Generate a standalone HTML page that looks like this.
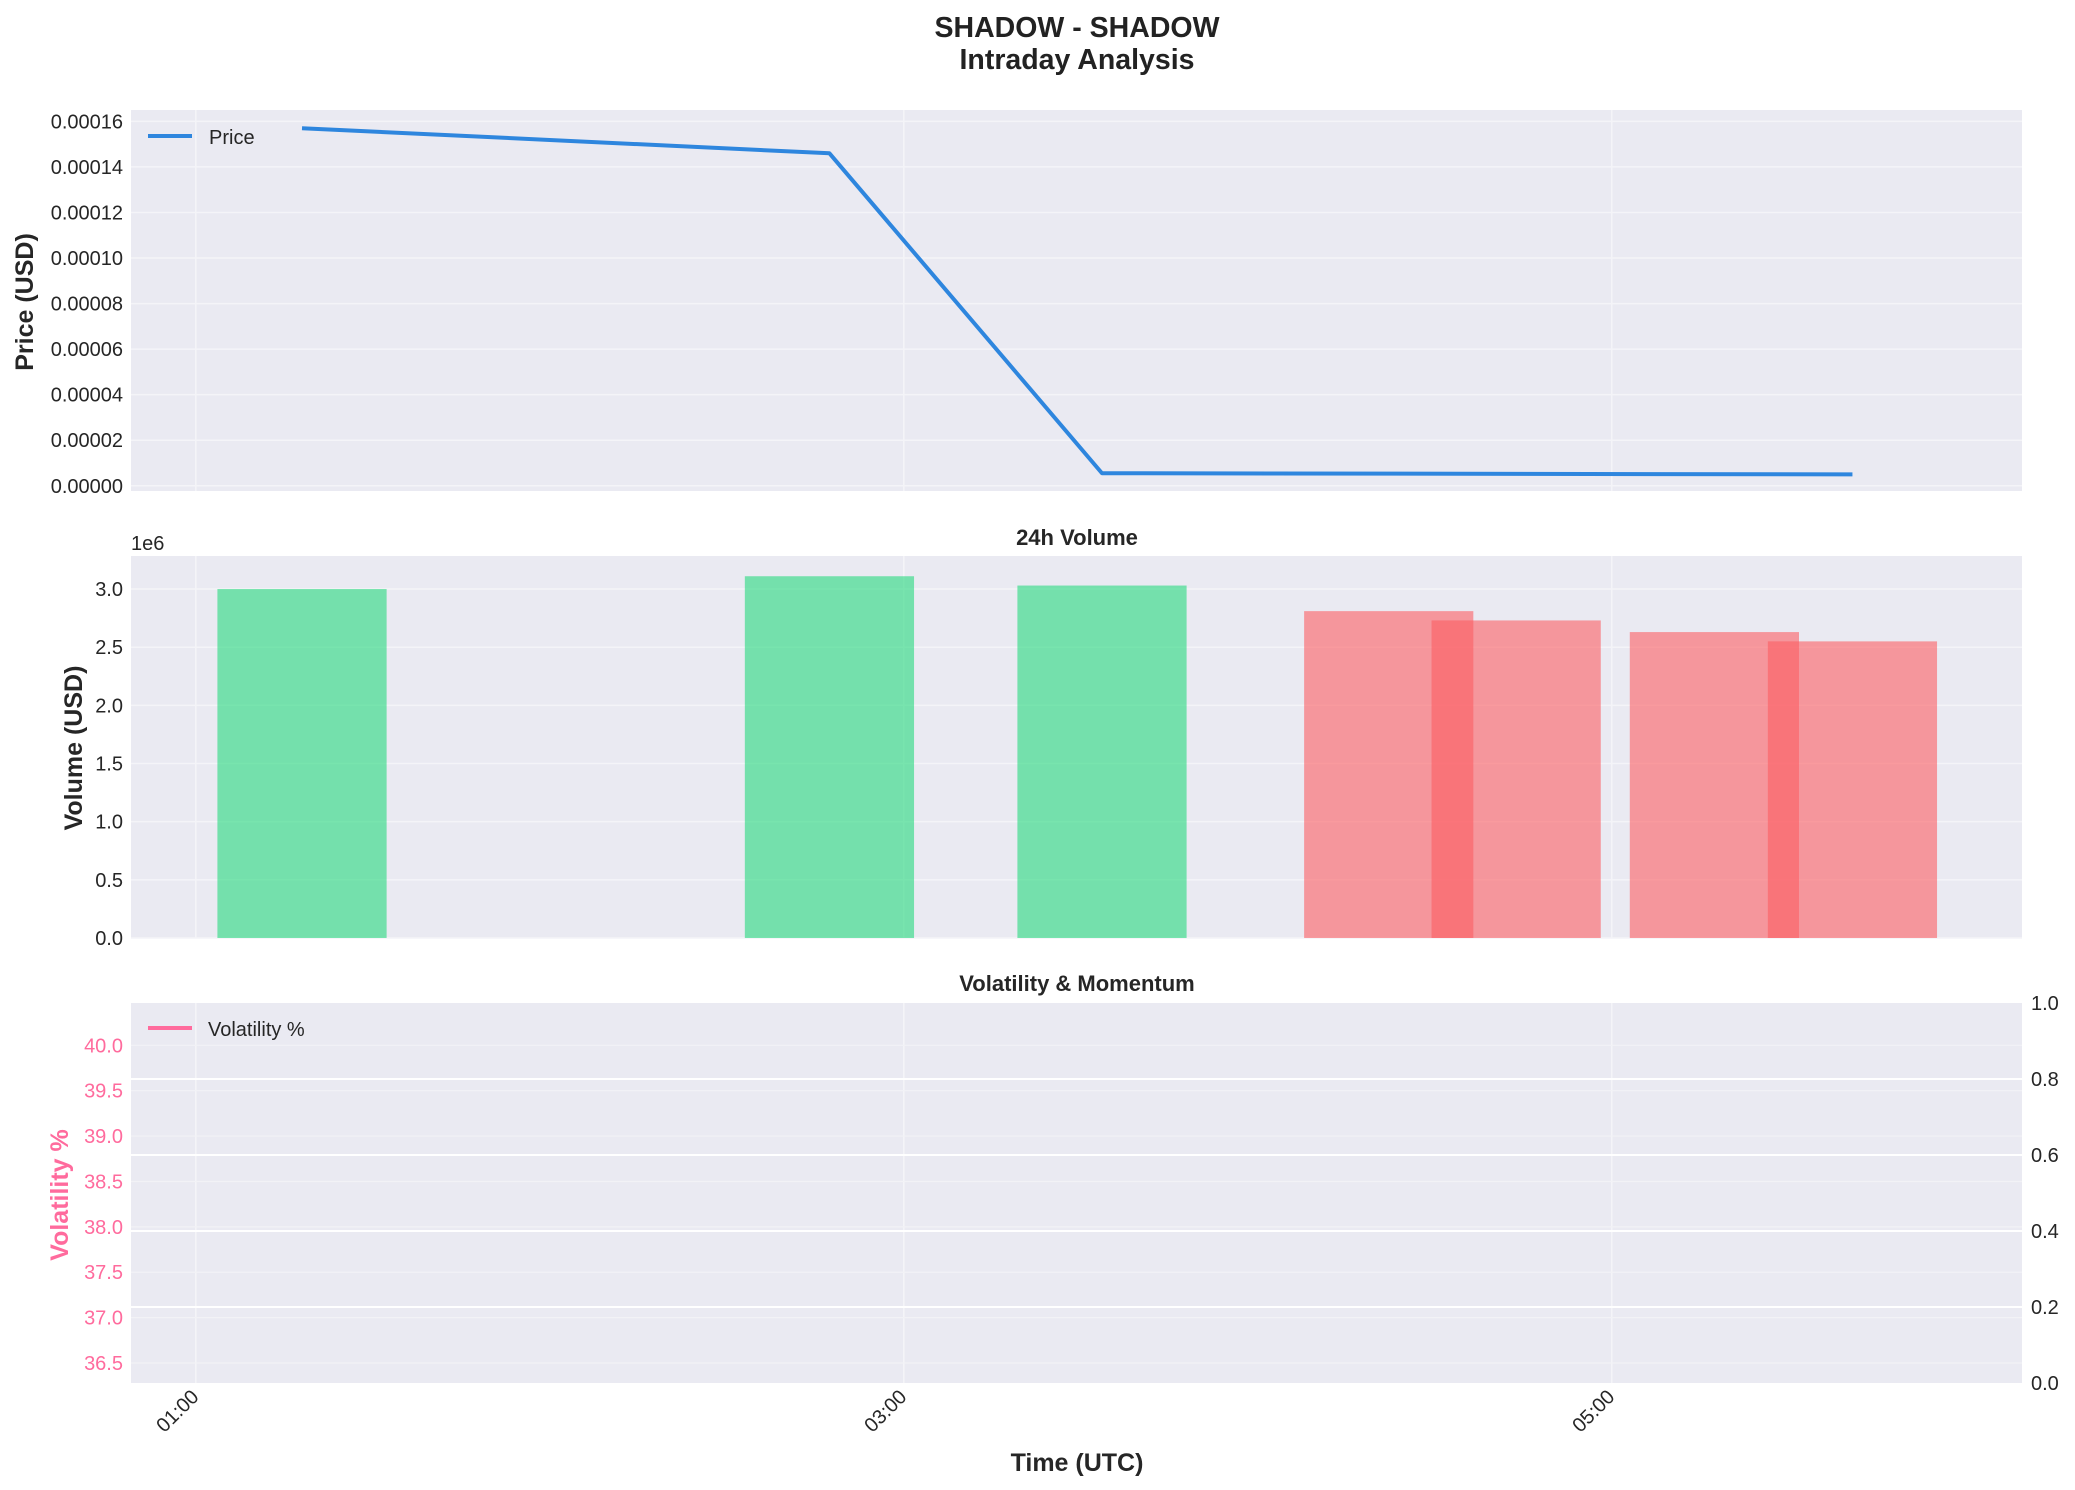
<!DOCTYPE html>
<html><head><meta charset="utf-8"><style>
html,body{margin:0;padding:0;background:#fff;}
svg{display:block;font-family:"Liberation Sans",sans-serif;}
</style></head><body>
<svg id="chart" width="2075" height="1490" viewBox="0 0 2075 1490" xmlns="http://www.w3.org/2000/svg">
<text x="1077" y="37" text-anchor="middle" font-size="28.5" font-weight="bold" fill="#222">SHADOW - SHADOW</text>
<text x="1077" y="69" text-anchor="middle" font-size="28.5" font-weight="bold" fill="#222">Intraday Analysis</text>
<g id="g"></g>
</svg>
<script>
// ---- data ----
const priceTimes = [1.30, 2.79, 3.56, 5.68];
const priceValues = [0.000157, 0.000146, 0.0000055, 0.000005];
const volTimes = [1.30, 2.79, 3.56, 4.37, 4.73, 5.29, 5.68];
const volValues = [3.00, 3.11, 3.03, 2.81, 2.73, 2.63, 2.55];
const volUp = [true, true, true, false, false, false, false];
const priceTicks = [0, 0.00002, 0.00004, 0.00006, 0.00008, 0.00010, 0.00012, 0.00014, 0.00016];
const volTicks = [0, 0.5, 1.0, 1.5, 2.0, 2.5, 3.0];
const volaTicks = [36.5, 37.0, 37.5, 38.0, 38.5, 39.0, 39.5, 40.0];
const rightTicks = [0, 0.2, 0.4, 0.6, 0.8, 1.0];
const timeTicks = [1, 3, 5];
const timeLabels = ["01:00", "03:00", "05:00"];

const NS = "http://www.w3.org/2000/svg";
const g = document.getElementById('g');
function el(tag, attrs, parent) {
  const e = document.createElementNS(NS, tag);
  for (const k in attrs) e.setAttribute(k, attrs[k]);
  (parent || g).appendChild(e);
  return e;
}
const L = 131, R = 2022;
const xMin = 0.8169, xMax = 6.159;
function x(t) { return L + (t - xMin) / (xMax - xMin) * (R - L); }
function mkY(top, bot, lo, hi) { return v => bot - (v - lo) / (hi - lo) * (bot - top); }
const y1 = mkY(110, 491, -0.0000023, 0.000165);
const y2 = mkY(556, 938, 0, 3.284);
const y3 = mkY(1003, 1383, 36.28, 40.466);
const y3r = mkY(1003, 1383, 0, 1);
const FS = 20;

function panel(top, bot, name) {
  const r = el('rect', {x: L, y: top, width: R - L, height: bot - top, fill: '#eaeaf2'});
  
  
  timeTicks.forEach(t => {
    const l = el('line', {x1: x(t), x2: x(t), y1: top, y2: bot, stroke: '#f4f4f8', 'stroke-width': 1.5});
    
    
  });
}
function text(s, attrs, name) {
  const t = el('text', Object.assign({'font-size': FS, fill: '#262626'}, attrs));
  t.textContent = s;
  
  
  return t;
}

// Panel 1: price
panel(110, 491, 'price-panel');
priceTicks.forEach(v => {
  const l = el('line', {x1: L, x2: R, y1: y1(v), y2: y1(v), stroke: '#f4f4f8', 'stroke-width': 1.5});
  
  
  text(v.toFixed(5), {x: 123, y: y1(v) + 7, 'text-anchor': 'end'}, 'price-tick-label');
});
const pts = priceTimes.map((t, i) => x(t) + ',' + y1(priceValues[i])).join(' ');
const pl = el('polyline', {points: pts, fill: 'none', stroke: '#2e86de', 'stroke-width': 4, 'stroke-linejoin': 'round'});


const lg1 = el('line', {x1: 148, x2: 192, y1: 136, y2: 136, stroke: '#2e86de', 'stroke-width': 4});


text('Price', {x: 209, y: 144}, 'price-legend-label');
text('Price (USD)', {x: 0, y: 0, transform: 'translate(33,302) rotate(-90)', 'text-anchor': 'middle', 'font-size': 25, 'font-weight': 'bold'}, 'price-y-axis-title');

// Panel 2: volume
panel(556, 938, 'volume-panel');
volTicks.forEach(v => {
  const l = el('line', {x1: L, x2: R, y1: y2(v), y2: y2(v), stroke: '#f4f4f8', 'stroke-width': 1.5});
  
  
  text(v.toFixed(1), {x: 123, y: y2(v) + 7, 'text-anchor': 'end'}, 'volume-tick-label');
});
const barW = 0.478;
volTimes.forEach((t, i) => {
  const b = el('rect', {x: x(t - barW / 2), y: y2(volValues[i]), width: x(t + barW / 2) - x(t - barW / 2), height: y2(0) - y2(volValues[i]),
    fill: volUp[i] ? 'rgb(36,217,125)' : 'rgb(251,94,99)', 'fill-opacity': 0.6});
  
  
});
text('1e6', {x: 131, y: 550}, 'volume-scale-label');
text('24h Volume', {x: 1077, y: 545, 'text-anchor': 'middle', 'font-size': 22, 'font-weight': 'bold'}, 'volume-title');
text('Volume (USD)', {x: 0, y: 0, transform: 'translate(82,748) rotate(-90)', 'text-anchor': 'middle', 'font-size': 25, 'font-weight': 'bold'}, 'volume-y-axis-title');

// Panel 3: volatility
panel(1003, 1383, 'volatility-panel');
volaTicks.forEach(v => {
  const l = el('line', {x1: L, x2: R, y1: y3(v), y2: y3(v), stroke: '#f2f2f6', 'stroke-width': 1.2});
  
  
  text(v.toFixed(1), {x: 123, y: y3(v) + 7, 'text-anchor': 'end', fill: '#ff6b9d'}, 'volatility-tick-label');
});
rightTicks.forEach(v => {
  if (v > 0 && v < 1) {
    const l = el('line', {x1: L, x2: R, y1: y3r(v), y2: y3r(v), stroke: '#ffffff', 'stroke-width': 2});
    
    
  }
  text(v.toFixed(1), {x: 2031, y: y3r(v) + 7}, 'right-tick-label');
});
const lg3 = el('line', {x1: 148, x2: 192, y1: 1028, y2: 1028, stroke: '#ff6b9d', 'stroke-width': 4});


text('Volatility %', {x: 208, y: 1036}, 'volatility-legend-label');
text('Volatility & Momentum', {x: 1077, y: 991, 'text-anchor': 'middle', 'font-size': 22, 'font-weight': 'bold'}, 'volatility-title');
text('Volatility %', {x: 0, y: 0, transform: 'translate(68,1195) rotate(-90)', 'text-anchor': 'middle', 'font-size': 25, 'font-weight': 'bold', fill: '#ff6b9d'}, 'volatility-y-axis-title');

// x axis
timeTicks.forEach((t, i) => {
  text(timeLabels[i], {x: 0, y: 0, transform: 'translate(' + (x(t) + 4) + ',1398) rotate(-45)', 'text-anchor': 'end'}, 'x-tick-label');
});
text('Time (UTC)', {x: 1077, y: 1471, 'text-anchor': 'middle', 'font-size': 25, 'font-weight': 'bold'}, 'x-axis-title');
</script>
</body></html>
